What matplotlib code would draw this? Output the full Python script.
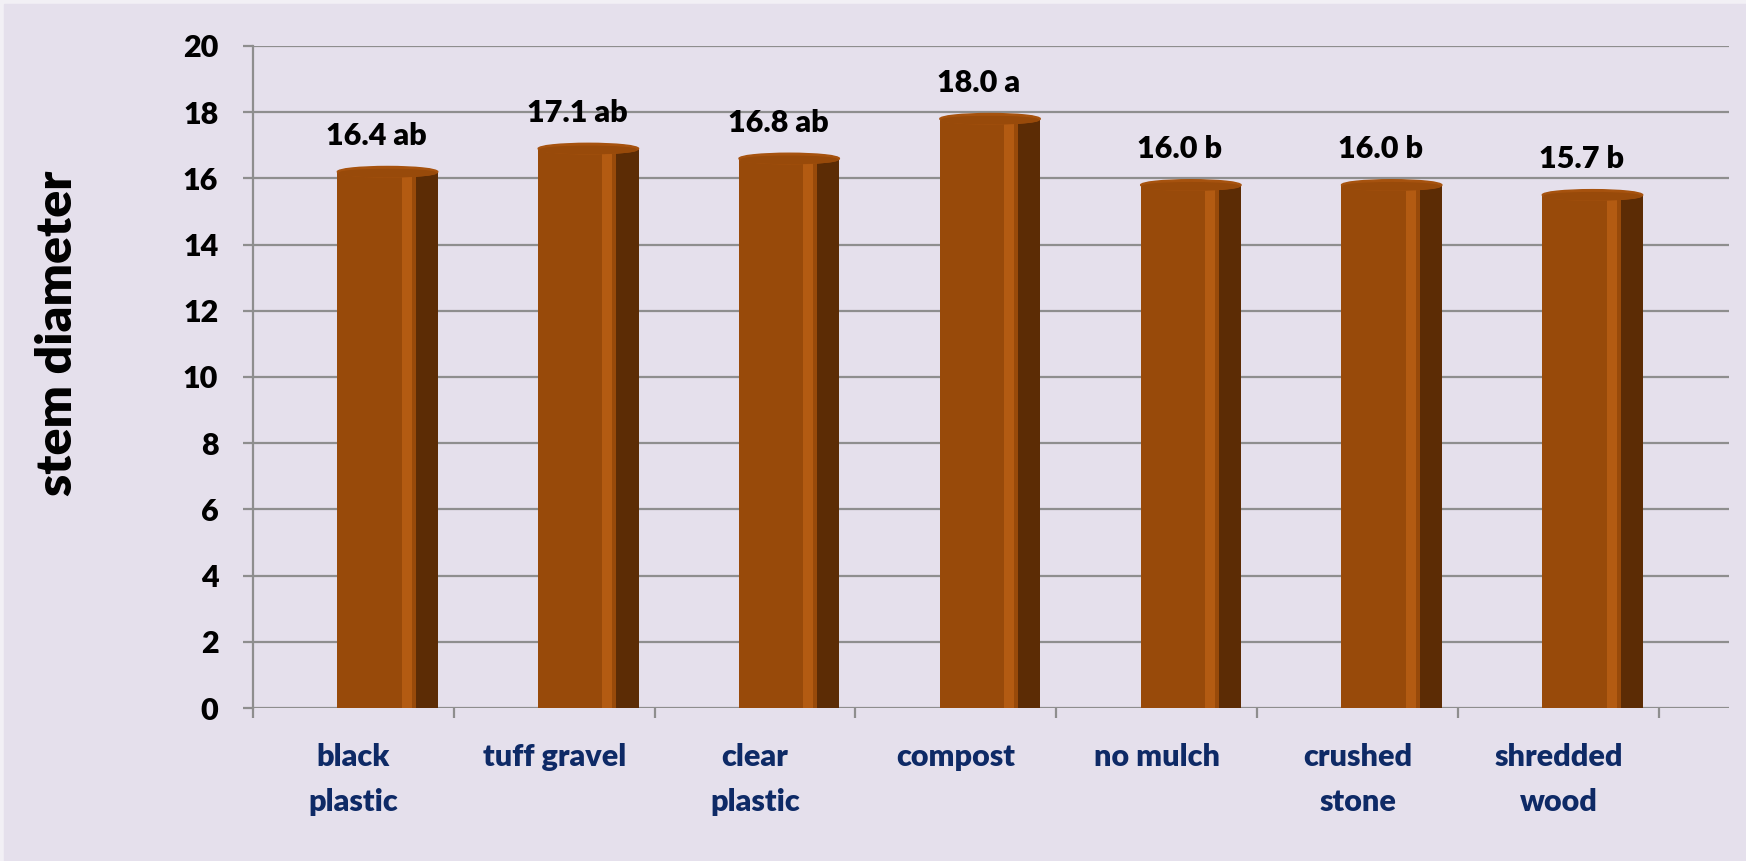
import matplotlib
matplotlib.use("Agg")
import matplotlib.pyplot as plt
from matplotlib.patches import Ellipse, Rectangle

# values
categories = ["black\nplastic", "tuff gravel", "clear\nplastic", "compost",
              "no mulch", "crushed\nstone", "shredded\nwood"]
values  = [16.4, 17.1, 16.8, 18.0, 16.0, 16.0, 15.7]
letters = ["ab", "ab", "ab", "a", "b", "b", "b"]
yticks  = list(range(0, 21, 2))

BG     = "#E5E0EC"
FACE   = "#984A0A"
STRIPE = "#B35B12"
SIDE   = "#5C2C05"
TOP    = "#A6520E"
GRID   = "#8E8E8E"
NAVY   = "#0E2A66"
FONT   = "Lato"
W      = "heavy"

fig = plt.figure(figsize=(17.46, 8.61), dpi=100, facecolor="#F2F0F5")
# thin lighter frame on the top and left edge, like the screenshot
fig.patches.append(Rectangle((4 / 1746, 0), 1, 1 - 4 / 861, transform=fig.transFigure,
                             color=BG, zorder=-10))
ax = fig.add_axes([0.1449, 0.1777, 0.9903 - 0.1449, 0.9466 - 0.1777])
ax.set_facecolor(BG)
ax.set_xlim(-0.5, 6.85)
ax.set_ylim(0, 20)

# horizontal gridlines (back wall of the excel 3d chart)
for t in yticks:
    ax.axhline(t, color=GRID, lw=1.6, zorder=1)

x = list(range(len(values)))
tops = [v - 0.2 for v in values]
# 3d-ish cylinders: front face, light stripe, dark side, and a cap on top
ax.bar([i - 0.08 for i in x], tops, width=0.39, align="edge", color=FACE, zorder=3)
ax.bar([i + 0.24 for i in x], tops, width=0.05, align="edge", color=STRIPE, zorder=3)
ax.bar([i + 0.31 for i in x], tops, width=0.11, align="edge", color=SIDE, zorder=3)
for i, v in zip(x, values):
    ax.add_patch(Ellipse((i + 0.17, v - 0.2), 0.50, 0.32, color=TOP, zorder=4))
    ax.add_patch(Ellipse((i + 0.17, v - 0.24), 0.48, 0.22, color=FACE, zorder=4))
    ax.text(i + 0.115, v + 0.45, f"{v:.1f} {letters[i]}", ha="center", va="bottom",
            fontsize=22, fontweight=W, family=FONT, color="black", zorder=5)

for s in ["top", "right", "bottom"]:
    ax.spines[s].set_visible(False)
ax.spines["left"].set_color(GRID)
ax.spines["left"].set_linewidth(1.6)

ax.set_yticks(yticks)
ax.set_yticklabels([str(t) for t in yticks], fontsize=22, fontweight=W, family=FONT)
ax.tick_params(axis="y", length=7, width=1.6, color=GRID, pad=18)

# category ticks at slot boundaries, labels at slot centres
ax.set_xticks([i - 0.5 for i in range(len(values) + 1)])
ax.set_xticklabels([])
ax.set_xticks(x, minor=True)
ax.set_xticklabels(categories, minor=True, fontsize=22, fontweight=W,
                   family=FONT, color=NAVY, linespacing=1.75)
ax.tick_params(axis="x", which="major", length=7, width=1.6, color=GRID)
ax.tick_params(axis="x", which="minor", length=0, pad=25)

fig.text(0.033, 0.613, "stem diameter", rotation=90, ha="center", va="center",
         fontsize=36, fontweight=W, family=FONT)

fig.savefig("out.png", dpi=100, facecolor=fig.get_facecolor())
